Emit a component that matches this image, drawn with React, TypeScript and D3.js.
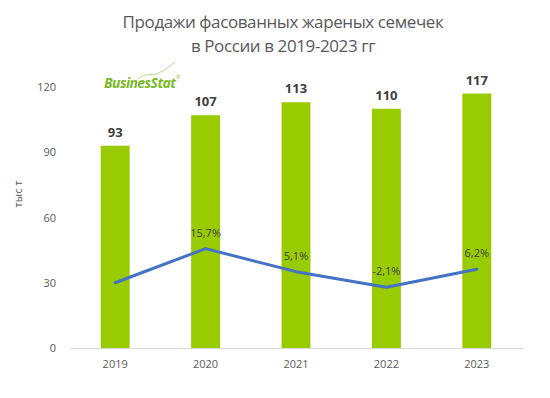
import { useRef, useEffect } from 'react'
import * as d3 from 'd3'

const years = ['2019', '2020', '2021', '2022', '2023']
const sales = [93, 107, 113, 110, 117]
const growth = [0, 15.7, 5.1, -2.1, 6.2]
const growthLabels = ['', '15,7%', '5,1%', '-2,1%', '6,2%']
const yTicks = [0, 30, 60, 90, 120]

function App() {
  const ref = useRef<SVGSVGElement>(null)

  useEffect(() => {
    const svg = d3.select(ref.current)
    svg.selectAll('*').remove()

    const x = d3.scaleBand().domain(years).range([70, 522]).paddingInner(0.68).paddingOuter(0.34)
    const y = d3.scaleLinear().domain([0, 120]).range([348, 87])
    const y2 = d3.scaleLinear().domain([-30, 90]).range([348, 87])

    // title
    const title = svg.append('text')
      .attr('text-anchor', 'middle')
      .attr('fill', '#595959')
      .style('font', '17px "Open Sans", sans-serif')
      .style('letter-spacing', '-0.4px')
    title.append('tspan').attr('x', 283).attr('y', 28).text('Продажи фасованных жареных семечек')
    title.append('tspan').attr('x', 283).attr('y', 52).text('в России в 2019-2023 гг')

    // y axis labels
    svg.append('g').selectAll('text')
      .data(yTicks)
      .enter()
      .append('text')
      .attr('x', 56)
      .attr('y', d => y(d) + 4)
      .attr('text-anchor', 'end')
      .attr('fill', '#595959')
      .style('font', '11px "Open Sans", sans-serif')
      .text(d => d)

    svg.append('text')
      .attr('transform', 'translate(22,194)rotate(-90)')
      .attr('text-anchor', 'middle')
      .attr('fill', '#595959')
      .style('font', '11px "Open Sans", sans-serif')
      .text('тыс т')

    // bars
    svg.append('g').selectAll('rect')
      .data(sales)
      .enter()
      .append('rect')
      .attr('x', (d, i) => x(years[i])!)
      .attr('y', d => y(d))
      .attr('width', x.bandwidth())
      .attr('height', d => 348 - y(d))
      .attr('fill', '#99cc00')

    svg.append('line')
      .attr('x1', 70).attr('x2', 523)
      .attr('y1', 348.5).attr('y2', 348.5)
      .attr('stroke', '#d9d9d9')

    svg.append('g').selectAll('text')
      .data(sales)
      .enter()
      .append('text')
      .attr('x', (d, i) => x(years[i])! + x.bandwidth() / 2)
      .attr('y', d => y(d) - 9)
      .attr('text-anchor', 'middle')
      .attr('fill', '#404040')
      .style('font', 'bold 13px "Open Sans", sans-serif')
      .text(d => d)

    // x labels
    svg.append('g').selectAll('text')
      .data(years)
      .enter()
      .append('text')
      .attr('x', d => x(d)! + x.bandwidth() / 2)
      .attr('y', 368)
      .attr('text-anchor', 'middle')
      .attr('fill', '#595959')
      .style('font', '11px "Open Sans", sans-serif')
      .text(d => d)

    // growth line
    const line = d3.line<number>()
      .x((d, i) => x(years[i])! + x.bandwidth() / 2)
      .y(d => y2(d))
    svg.append('path')
      .datum(growth)
      .attr('d', line)
      .attr('fill', 'none')
      .attr('stroke', '#4472c4')
      .attr('stroke-width', 3)
      .attr('stroke-linejoin', 'round')
      .attr('stroke-linecap', 'round')

    svg.append('g').selectAll('text')
      .data(growth)
      .enter()
      .append('text')
      .attr('x', (d, i) => x(years[i])! + x.bandwidth() / 2)
      .attr('y', d => y2(d) - 12)
      .attr('text-anchor', 'middle')
      .attr('fill', '#404040')
      .style('font', '11px "Open Sans", sans-serif')
      .text((d, i) => growthLabels[i])

    // logo
    const logo = svg.append('g')
    logo.append('path')
      .attr('d', 'M138,79 C146,72 150,76 156,74 C163,71 168,68 175,62')
      .attr('fill', 'none')
      .attr('stroke', '#b5d98a')
      .attr('stroke-width', 1)
    logo.append('text')
      .attr('x', 104)
      .attr('y', 88)
      .attr('fill', '#7ab929')
      .style('font', 'italic bold 14px "Open Sans", sans-serif')
      .style('letter-spacing', '-0.6px')
      .text('BusinesStat')
    logo.append('text')
      .attr('x', 176)
      .attr('y', 79)
      .attr('fill', '#7ab929')
      .style('font', '6px sans-serif')
      .text('®')
  }, [])

  return (
    <svg ref={ref} width={550} height={398} style={{ display: 'block', position: 'absolute', left: 0, top: 0 }} />
  )
}

export default App
